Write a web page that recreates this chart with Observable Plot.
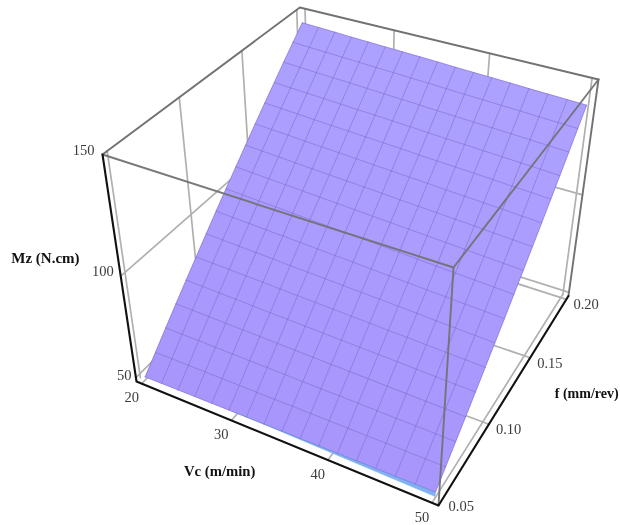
<!DOCTYPE html>
<html><head><meta charset="utf-8">
<script src="https://cdn.jsdelivr.net/npm/d3@7"></script>
<script src="https://cdn.jsdelivr.net/npm/@observablehq/plot@0.6"></script>
<style>html,body{margin:0;padding:0;background:#fff}svg{display:block;overflow:visible;filter:blur(0.4px)}</style>
</head><body><div id="chart"></div>
<script>
const vcTicks = [20, 30, 40, 50];
const fTicks = [0.05, 0.10, 0.15, 0.20];
const mzTicks = [50, 100, 150];
const vcBox = [19.4, 50.6];
const fBox = [0.047, 0.203];
const mzBox = [48, 152];
const vcMesh = [20,21.875,23.75,25.625,27.5,29.375,31.25,33.125,35,36.875,38.75,40.625,42.5,44.375,46.25,48.125,50];
const fMesh = [0.05,0.059375,0.06875,0.078125,0.0875,0.096875,0.10625,0.115625,0.125,0.134375,0.14375,0.153125,0.1625,0.171875,0.18125,0.190625,0.2];
const mzRows = [
[49.5,49.6,49.7,49.8,49.9,50.0,50.1,50.2,50.3,50.3,50.4,50.5,50.6,50.7,50.8,50.9,51.0],
[56.1,56.1,56.1,56.1,56.1,56.1,56.1,56.1,56.2,56.2,56.2,56.2,56.2,56.2,56.2,56.2,56.2],
[62.7,62.6,62.6,62.5,62.4,62.3,62.3,62.2,62.1,62.0,62.0,61.9,61.8,61.7,61.7,61.6,61.5],
[69.2,69.1,68.9,68.8,68.6,68.5,68.3,68.2,68.0,67.9,67.7,67.6,67.4,67.3,67.1,67.0,66.8],
[75.6,75.4,75.2,75.0,74.8,74.5,74.3,74.1,73.9,73.7,73.5,73.3,73.1,72.8,72.6,72.4,72.2],
[81.9,81.6,81.4,81.1,80.9,80.6,80.3,80.1,79.8,79.5,79.3,79.0,78.8,78.5,78.2,78.0,77.7],
[88.2,87.9,87.6,87.3,87.0,86.6,86.3,86.0,85.7,85.4,85.1,84.8,84.5,84.1,83.8,83.5,83.2],
[94.4,94.0,93.7,93.3,93.0,92.6,92.3,91.9,91.6,91.2,90.8,90.5,90.1,89.8,89.4,89.1,88.7],
[100.5,100.1,99.7,99.4,99.0,98.6,98.2,97.8,97.5,97.1,96.7,96.3,95.9,95.5,95.2,94.8,94.4],
[106.5,106.1,105.7,105.3,104.9,104.5,104.1,103.7,103.3,102.9,102.5,102.1,101.7,101.3,100.9,100.5,100.1],
[112.5,112.1,111.7,111.2,110.8,110.4,110.0,109.6,109.2,108.7,108.3,107.9,107.5,107.1,106.6,106.2,105.8],
[118.4,118.0,117.6,117.1,116.7,116.3,115.9,115.4,115.0,114.6,114.2,113.7,113.3,112.9,112.5,112.0,111.6],
[124.2,123.8,123.4,122.9,122.5,122.1,121.7,121.3,120.9,120.4,120.0,119.6,119.2,118.8,118.3,117.9,117.5],
[129.9,129.5,129.1,128.7,128.3,127.9,127.5,127.1,126.7,126.2,125.8,125.4,125.0,124.6,124.2,123.8,123.4],
[135.6,135.2,134.8,134.4,134.1,133.7,133.3,132.9,132.5,132.1,131.7,131.3,131.0,130.6,130.2,129.8,129.4],
[141.2,140.8,140.5,140.1,139.8,139.4,139.1,138.7,138.4,138.0,137.6,137.3,136.9,136.6,136.2,135.9,135.5],
[146.7,146.4,146.1,145.7,145.4,145.1,144.8,144.5,144.2,143.8,143.5,143.2,142.9,142.5,142.2,141.9,141.6]
];
const edgeVc = [30, 40, 50];
const edgeTopMz = [50.2, 50.6, 51.0];
const edgeMzLow = [50.2, 49.5, 48.7];

// camera: perspective view of the unit box, calibrated on the reference picture
const camX = [253.69, 232.15, -47.76, 136];
const camY = [68.30, -125.69, -247.77, 381];
const camW = [-0.1103, 0.2052, -0.1349, 1];
const uS = d3.scaleLinear(vcBox, [0, 1]), vS = d3.scaleLinear(fBox, [0, 1]), wS = d3.scaleLinear(mzBox, [0, 1]);
const dot = (c, u, v, w) => c[0]*u + c[1]*v + c[2]*w + c[3];
function P(vc, f, mz) {
  const u = uS(vc), v = vS(f), w = wS(mz), h = dot(camW, u, v, w);
  return {x: dot(camX, u, v, w) / h, y: dot(camY, u, v, w) / h};
}
let id = 0;
const seg = (...pts) => { const k = id++; return pts.map(p => ({...P(...p), k})); };
const [V0, V1] = vcBox, [F0, F1] = fBox, [M0, M1] = mzBox;

// back walls and floor grid
const grid = [];
for (const f of fTicks) {
  grid.push(...seg([V0,f,M0],[V0,f,M1]));
  if (f !== fTicks[0]) grid.push(...seg([V0,f,M0],[V1,f,M0]));
}
for (const m of mzTicks.slice(0, 2)) { grid.push(...seg([V0,F0,m],[V0,F1,m])); grid.push(...seg([V0,F1,m],[V1,F1,m])); }
for (const v of vcTicks) { grid.push(...seg([v,F1,M0],[v,F1,M1])); grid.push(...seg([v,F0,M0],[v,F1,M0])); }

// surface cells
const shade = d3.interpolateRgb("#a896fd", "#ada1ff");
const cells = [];
for (let j = 0; j < 16; j++) for (let i = 0; i < 16; i++) {
  const c = seg([vcMesh[i],fMesh[j],mzRows[j][i]],[vcMesh[i+1],fMesh[j],mzRows[j][i+1]],[vcMesh[i+1],fMesh[j+1],mzRows[j+1][i+1]],[vcMesh[i],fMesh[j+1],mzRows[j+1][i]],[vcMesh[i],fMesh[j],mzRows[j][i]]);
  c.forEach(d => d.tone = shade(j / 15));
  cells.push(...c);
}
const mesh = [];
for (let j = 0; j < 17; j++) mesh.push(...seg(...vcMesh.map((v, i) => [v, fMesh[j], mzRows[j][i]])));
for (let i = 0; i < 17; i++) mesh.push(...seg(...fMesh.map((f, j) => [vcMesh[i], f, mzRows[j][i]])));

// blue strip under the front edge
const strip = seg(...edgeVc.map((v, i) => [v, fMesh[0], edgeTopMz[i]]), ...edgeVc.map((v, i) => [v, fMesh[0], edgeMzLow[i]]).reverse());

const axesBlack = [...seg([V0,F0,M1],[V0,F0,M0],[V1,F0,M0],[V1,F1,M0])];
const frameFront = [...seg([V0,F0,M1],[V1,F0,M1],[V1,F1,M1]), ...seg([V1,F0,M1],[V1,F0,M0])];
const frameBack = [...seg([V0,F0,M1],[V0,F1,M1],[V1,F1,M1]), ...seg([V1,F1,M1],[V1,F1,M0])];

const labelFont = {fontFamily: "Liberation Serif", fontSize: 14.5, fill: "#3c3c3c"};
const titleFont = {fontFamily: "Liberation Serif", fontWeight: "bold", fill: "#111"};
const mzOffsets = new Map([[50, [-4.4, -2]], [100, [-7, -4.7]], [150, [-8.7, -9]]]);
const lab = (text, p, dx, dy) => ({...p, x: p.x + dx, y: p.y + dy, text});

const vcLabels = vcTicks.map(v => lab(String(v), P(v, F0, M0), -10, 14.2));
const fLabels = fTicks.map(f => lab(f.toFixed(2), P(V1, f, M0), 7, 5.5));
const mzLabels = mzTicks.map(m => lab(String(m), P(V0, F0, m), ...mzOffsets.get(m)));
const titles = [
  {t: "Mz (N.cm)", ...P(V0, F0, 101), ox: -75, oy: -16, s: 15},
  {t: "Vc (m/min)", ...P(35, F0, M0), ox: -59, oy: 31, s: 14.7},
  {t: "f (mm/rev)", ...P(V1, 0.125, M0), ox: 76.5, oy: 4, s: 14}
].map(d => ({...d, x: d.x + d.ox, y: d.y + d.oy}));

const chart = Plot.plot({
  width: 620, height: 525, margin: 0,
  x: {domain: [0, 620], range: [0, 620], axis: null},
  y: {domain: [0, 525], range: [0, 525], axis: null},
  color: {type: "identity"},
  marks: [
    Plot.line(grid, {x: "x", y: "y", z: "k", stroke: "#b0b0b0", strokeWidth: 1.7}),
    Plot.line(frameBack, {x: "x", y: "y", z: "k", stroke: "#727272", strokeWidth: 1.9}),
    Plot.line(cells, {x: "x", y: "y", z: "k", fill: "tone", stroke: "tone", strokeWidth: 0.5}),
    Plot.line(strip, {x: "x", y: "y", z: "k", fill: "#7fb2f2", stroke: "#7fb2f2", strokeWidth: 0.5}),
    Plot.line(mesh, {x: "x", y: "y", z: "k", stroke: "#7565c8", strokeWidth: 1, strokeOpacity: 0.55}),
    Plot.line(frameFront, {x: "x", y: "y", z: "k", stroke: "#727272", strokeWidth: 1.9, strokeOpacity: 0.95}),
    Plot.line(axesBlack, {x: "x", y: "y", z: "k", stroke: "#111", strokeWidth: 2.1}),
    Plot.text(vcLabels, {x: "x", y: "y", text: "text", ...labelFont}),
    Plot.text(fLabels, {x: "x", y: "y", text: "text", textAnchor: "start", ...labelFont}),
    Plot.text(mzLabels, {x: "x", y: "y", text: "text", textAnchor: "end", ...labelFont}),
    Plot.text(titles, {x: "x", y: "y", text: "t", fontSize: "s", ...titleFont})
  ]
});
document.getElementById("chart").append(chart);
</script></body></html>
